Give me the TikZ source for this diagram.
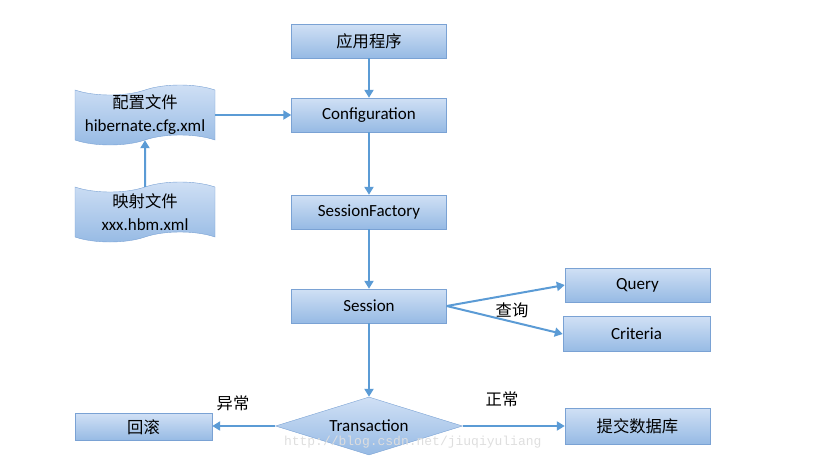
\documentclass[tikz,border=0pt]{standalone}
\usepackage{fontspec}
\setmainfont{Carlito}
\newfontfamily\cjk[Scale=0.96]{Noto Sans CJK SC}
\newfontfamily\wmfont{Liberation Mono}
\usetikzlibrary{arrows.meta,shapes,positioning}
\definecolor{boxtop}{RGB}{208,224,245}
\definecolor{boxbot}{RGB}{150,186,228}
\definecolor{boxline}{RGB}{122,162,212}
\definecolor{flow}{RGB}{91,155,213}
\newcommand{\txtfont}{\fontsize{17}{23}\selectfont}
\tikzset{process/.style={
    rectangle,minimum width=155pt,minimum height=34pt,
    draw=boxline,
    top color=boxtop,bottom color=boxbot,
    align=center,
    font=\txtfont}
}
\tikzset{docblk/.style={
    tape,tape bend top=in and out,tape bend bottom=in and out,
    tape bend height=10pt,inner sep=0pt,
    minimum width=140pt,minimum height=60pt,
    draw=boxline,
    top color=boxtop,bottom color=boxbot,
    align=center,
    font=\txtfont}
}
\tikzset{decide/.style={
    diamond,shape aspect=3.2,inner sep=0pt,
    minimum width=187pt,minimum height=58pt,
    draw=boxline,
    top color=boxtop,bottom color=boxbot,
    font=\txtfont}
}
\tikzset{>={Triangle[width=9pt,length=8pt]},
  arrow/.style={->,draw=flow,line width=2pt},
  tag/.style={font=\txtfont\cjk},
  wmark/.style={font=\fontsize{13}{16}\selectfont\wmfont,text=black!13}
}

\begin{document}
\begin{tikzpicture}[x=1pt,y=-1pt]
    \useasboundingbox (0,0) rectangle (815,472);
    % main column
    \node (app) [process] at (369,41) {\cjk 应用程序};
    \node (conf) [process] at (369,115) {Configuration};
    \node (sf) [process] at (369,212) {SessionFactory};
    \node (sess) [process] at (369,306) {Session};
    \node (trans) [decide] at (369,426) {Transaction};
    % mapping files
    \node (cfgfile) [docblk] at (145,115) {{\cjk 配置文件}\\hibernate.cfg.xml};
    \node (hbmfile) [docblk] at (145,212) {{\cjk 映射文件}\\xxx.hbm.xml};
    % queries
    \node (query) [process,minimum width=145pt] at (637.5,285) {Query};
    \node (crit) [process,minimum width=147pt,minimum height=35pt] at (636.5,334) {Criteria};
    % outcome
    \node (back) [process,minimum width=137pt,minimum height=27pt] at (143.5,427) {\cjk 回滚};
    \node (commit) [process,minimum width=145pt,minimum height=36pt] at (637.5,426) {\cjk 提交数据库};
    % watermark
    \node (wm) [wmark,anchor=east] at (545,442) {http://blog.csdn.net/jiuqiyuliang};
    % connectors
    \draw [arrow] (app) -- (conf);
    \draw [arrow] (conf) -- (sf);
    \draw [arrow] (sf) -- (sess);
    \draw [arrow] (sess) -- (trans);
    \draw [arrow] (hbmfile) -- (cfgfile);
    \draw [arrow] (cfgfile.east) -- (conf.west);
    \draw [arrow] (sess.east) -- (query.west);
    \draw [arrow] (sess.east) -- (crit.west);
    \draw [arrow] (trans.west) -- (back.east |- trans.west);
    \draw [arrow] (trans.east) -- (commit.west |- trans.east);
    \node (q) [tag] at (512,310) {查询};
    \node (err) [tag] at (233,403) {异常};
    \node (ok) [tag] at (502,399) {正常};
\end{tikzpicture}
\end{document}
